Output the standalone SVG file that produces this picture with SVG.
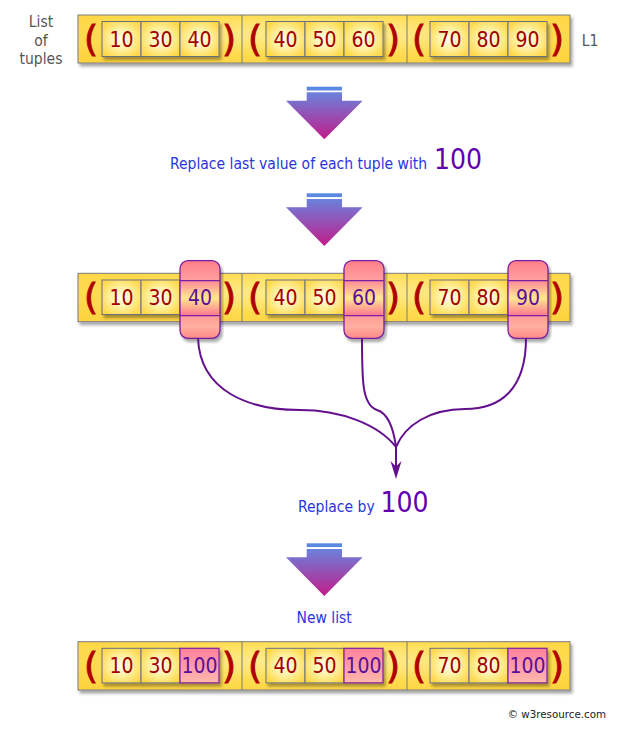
<svg xmlns="http://www.w3.org/2000/svg" xmlns:xlink="http://www.w3.org/1999/xlink" width="619" height="730" viewBox="0 0 619 730">
<style>
.outer{fill:url(#outerG);stroke:#7a7a80;stroke-width:1}
.div{stroke:#7a7a80;stroke-width:1}
.cell{fill:url(#cellG);stroke:#6b7080;stroke-width:1}
.num{font-family:"DejaVu Sans Condensed","DejaVu Sans",sans-serif;font-stretch:condensed;font-size:21px;fill:#a00000;text-anchor:middle}
.hl{fill:#5a0f9a}
.par{font-family:"DejaVu Sans",sans-serif;font-size:36px;fill:#b00000;stroke:#b00000;stroke-width:0.9;text-anchor:middle}
.lbl{font-family:"DejaVu Sans Condensed","DejaVu Sans",sans-serif;font-stretch:condensed;font-size:15.5px;fill:#555;text-anchor:middle}
.blue{font-family:"DejaVu Sans Condensed","DejaVu Sans",sans-serif;font-stretch:condensed;font-size:15.5px;fill:#2a35e0}
.big{font-family:"DejaVu Sans Condensed","DejaVu Sans",sans-serif;font-stretch:condensed;font-size:28px;fill:#6200b0}
.pink{fill:url(#pinkG);stroke:#7a1fa0;stroke-width:1.3}
.pline{stroke:#7a1fa0;stroke-width:1.2}
.pcell{fill:url(#pcellG);stroke:#7a1fa0;stroke-width:1.2}
.con{fill:none;stroke:#64108e;stroke-width:2}
.copy{font-family:"DejaVu Sans",sans-serif;font-size:10.3px;fill:#222;text-anchor:end}
</style>
<defs>
<radialGradient id="outerG" cx="50%" cy="40%" r="70%">
<stop offset="0" stop-color="#fff0a0"/><stop offset="0.6" stop-color="#ffdc52"/><stop offset="1" stop-color="#fdd440"/>
</radialGradient>
<radialGradient id="cellG" cx="50%" cy="50%" r="60%">
<stop offset="0" stop-color="#fffef2"/><stop offset="0.5" stop-color="#fff0a0"/><stop offset="1" stop-color="#ffd848"/>
</radialGradient>
<linearGradient id="pinkG" x1="0" y1="0" x2="0" y2="1">
<stop offset="0" stop-color="#ff7e88"/><stop offset="0.25" stop-color="#ffa0a0"/><stop offset="0.26" stop-color="#ff8a98"/><stop offset="0.48" stop-color="#ffe890"/><stop offset="0.7" stop-color="#ff7a90"/><stop offset="0.71" stop-color="#ff9a98"/><stop offset="0.85" stop-color="#ffb0a0"/><stop offset="1" stop-color="#ff8888"/>
</linearGradient>
<linearGradient id="pcellG" x1="0" y1="0" x2="0" y2="1">
<stop offset="0" stop-color="#ff8399"/><stop offset="0.6" stop-color="#ffa0ac"/><stop offset="1" stop-color="#ffb8a8"/>
</linearGradient>
<linearGradient id="arrG" x1="0" y1="0" x2="0" y2="1">
<stop offset="0" stop-color="#6a82dc"/><stop offset="1" stop-color="#c21c8a"/>
</linearGradient>
<filter id="sh" x="-5%" y="-10%" width="115%" height="140%">
<feDropShadow dx="2" dy="3" stdDeviation="1.5" flood-color="#000" flood-opacity="0.35"/>
</filter>
<g id="arrow">
<rect x="306.7" y="0" width="35.3" height="3.8" fill="#5b88e0"/>
<path d="M306.7,5.6 H342 V14 H362.7 L324.3,52.6 L286,14 H306.7 Z" fill="url(#arrG)"/>
</g>
</defs>

<rect width="619" height="730" fill="#fff"/>

<g id="label-list">
<text class="lbl" x="41" y="27">List</text>
<text class="lbl" x="41" y="46">of</text>
<text class="lbl" x="41" y="64">tuples</text>
</g>
<text id="label-L1" class="lbl" x="590" y="46">L1</text>

<!-- Row 1 -->
<g id="row1" transform="translate(0,15)">
<rect class="outer" x="78" y="0" width="492" height="48" filter="url(#sh)"/>
<line class="div" x1="242" y1="0" x2="242" y2="48"/>
<line class="div" x1="407" y1="0" x2="407" y2="48"/>
<g id="t1a">
<g filter="url(#sh)"><rect class="cell" x="102" y="6.5" width="39" height="35"/><rect class="cell" x="141" y="6.5" width="39" height="35"/><rect class="cell" x="180" y="6.5" width="39" height="35"/></g>
<text class="par" x="91" y="36">(</text><text class="par" x="229" y="36">)</text>
<text class="num" x="121.5" y="31.5">10</text><text class="num" x="160.5" y="31.5">30</text><text class="num" x="199.5" y="31.5">40</text>
</g>
<g id="t1b">
<g filter="url(#sh)"><rect class="cell" x="266" y="6.5" width="39" height="35"/><rect class="cell" x="305" y="6.5" width="39" height="35"/><rect class="cell" x="344" y="6.5" width="39" height="35"/></g>
<text class="par" x="255" y="36">(</text><text class="par" x="393" y="36">)</text>
<text class="num" x="285.5" y="31.5">40</text><text class="num" x="324.5" y="31.5">50</text><text class="num" x="363.5" y="31.5">60</text>
</g>
<g id="t1c">
<g filter="url(#sh)"><rect class="cell" x="430" y="6.5" width="39" height="35"/><rect class="cell" x="469" y="6.5" width="39" height="35"/><rect class="cell" x="508" y="6.5" width="39" height="35"/></g>
<text class="par" x="419" y="36">(</text><text class="par" x="557" y="36">)</text>
<text class="num" x="449.5" y="31.5">70</text><text class="num" x="488.5" y="31.5">80</text><text class="num" x="527.5" y="31.5">90</text>
</g>
</g>

<use id="arrow1" xlink:href="#arrow" href="#arrow" y="86.7"/>

<text id="label-replace-last" y="169"><tspan class="blue" x="170">Replace last value of each tuple with</tspan><tspan class="big" x="434">100</tspan></text>

<use id="arrow2" xlink:href="#arrow" href="#arrow" y="193.3"/>

<!-- Row 2 -->
<g id="row2" transform="translate(0,273.3)">
<rect class="outer" x="78" y="0" width="492" height="48.4" filter="url(#sh)"/>
<line class="div" x1="242" y1="0" x2="242" y2="48.4"/>
<line class="div" x1="407" y1="0" x2="407" y2="48.4"/>
<g id="t2a">
<g filter="url(#sh)"><rect class="cell" x="102" y="6.7" width="39" height="34.5"/><rect class="cell" x="141" y="6.7" width="39" height="34.5"/></g>
<text class="par" x="91" y="36">(</text><text class="par" x="229" y="36">)</text>
<text class="num" x="121.5" y="31.5">10</text><text class="num" x="160.5" y="31.5">30</text>
</g>
<g id="t2b">
<g filter="url(#sh)"><rect class="cell" x="266" y="6.7" width="39" height="34.5"/><rect class="cell" x="305" y="6.7" width="39" height="34.5"/></g>
<text class="par" x="255" y="36">(</text><text class="par" x="393" y="36">)</text>
<text class="num" x="285.5" y="31.5">40</text><text class="num" x="324.5" y="31.5">50</text>
</g>
<g id="t2c">
<g filter="url(#sh)"><rect class="cell" x="430" y="6.7" width="39" height="34.5"/><rect class="cell" x="469" y="6.7" width="39" height="34.5"/></g>
<text class="par" x="419" y="36">(</text><text class="par" x="557" y="36">)</text>
<text class="num" x="449.5" y="31.5">70</text><text class="num" x="488.5" y="31.5">80</text>
</g>
<g id="hl-40">
<rect class="pink" x="180" y="-12.6" width="40" height="77.6" rx="8" filter="url(#sh)"/>
<line class="pline" x1="180" y1="7.4" x2="220" y2="7.4"/><line class="pline" x1="180" y1="42.4" x2="220" y2="42.4"/>
<text class="num hl" x="200" y="31.5">40</text>
</g>
<g id="hl-60">
<rect class="pink" x="344" y="-12.6" width="40" height="77.6" rx="8" filter="url(#sh)"/>
<line class="pline" x1="344" y1="7.4" x2="384" y2="7.4"/><line class="pline" x1="344" y1="42.4" x2="384" y2="42.4"/>
<text class="num hl" x="364" y="31.5">60</text>
</g>
<g id="hl-90">
<rect class="pink" x="508" y="-12.6" width="40" height="77.6" rx="8" filter="url(#sh)"/>
<line class="pline" x1="508" y1="7.4" x2="548" y2="7.4"/><line class="pline" x1="508" y1="42.4" x2="548" y2="42.4"/>
<text class="num hl" x="528" y="31.5">90</text>
</g>
</g>

<g id="connectors">
<path class="con" d="M198,338 C200,392 250,410 300,410 C340,410 378,424 396,447"/>
<path class="con" d="M362,338 C362,380 362,405 377,410 C390,414 394,432 396,447"/>
<path class="con" d="M526,338 C526,390 500,409 465,409 C430,409 405,425 396,447"/>
<path class="con" d="M396,446 L396,472"/>
<path d="M396,479 L390.5,461 L396,466.5 L401.5,461 Z" fill="#64108e"/>
</g>

<text id="label-replace-by" y="512"><tspan class="blue" x="298">Replace by</tspan><tspan class="big" x="380.5">100</tspan></text>

<use id="arrow3" xlink:href="#arrow" href="#arrow" y="543.3"/>

<text id="label-new-list" class="blue" x="296.5" y="623">New list</text>

<!-- Row 3 -->
<g id="row3" transform="translate(0,641.7)">
<rect class="outer" x="78" y="0" width="492" height="48.3" filter="url(#sh)"/>
<line class="div" x1="242" y1="0" x2="242" y2="48.3"/>
<line class="div" x1="407" y1="0" x2="407" y2="48.3"/>
<g id="t3a">
<g filter="url(#sh)"><rect class="cell" x="102" y="6.6" width="39" height="34.6"/><rect class="cell" x="141" y="6.6" width="39" height="34.6"/><rect class="pcell" x="180" y="6.6" width="39" height="34.6"/></g>
<text class="par" x="91" y="36">(</text><text class="par" x="229" y="36">)</text>
<text class="num" x="121.5" y="31.5">10</text><text class="num" x="160.5" y="31.5">30</text><text class="num hl" x="199.5" y="31.5">100</text>
</g>
<g id="t3b">
<g filter="url(#sh)"><rect class="cell" x="266" y="6.6" width="39" height="34.6"/><rect class="cell" x="305" y="6.6" width="39" height="34.6"/><rect class="pcell" x="344" y="6.6" width="39" height="34.6"/></g>
<text class="par" x="255" y="36">(</text><text class="par" x="393" y="36">)</text>
<text class="num" x="285.5" y="31.5">40</text><text class="num" x="324.5" y="31.5">50</text><text class="num hl" x="363.5" y="31.5">100</text>
</g>
<g id="t3c">
<g filter="url(#sh)"><rect class="cell" x="430" y="6.6" width="39" height="34.6"/><rect class="cell" x="469" y="6.6" width="39" height="34.6"/><rect class="pcell" x="508" y="6.6" width="39" height="34.6"/></g>
<text class="par" x="419" y="36">(</text><text class="par" x="557" y="36">)</text>
<text class="num" x="449.5" y="31.5">70</text><text class="num" x="488.5" y="31.5">80</text><text class="num hl" x="527.5" y="31.5">100</text>
</g>
</g>

<text id="copyright" class="copy" x="606" y="718">© w3resource.com</text>
</svg>
